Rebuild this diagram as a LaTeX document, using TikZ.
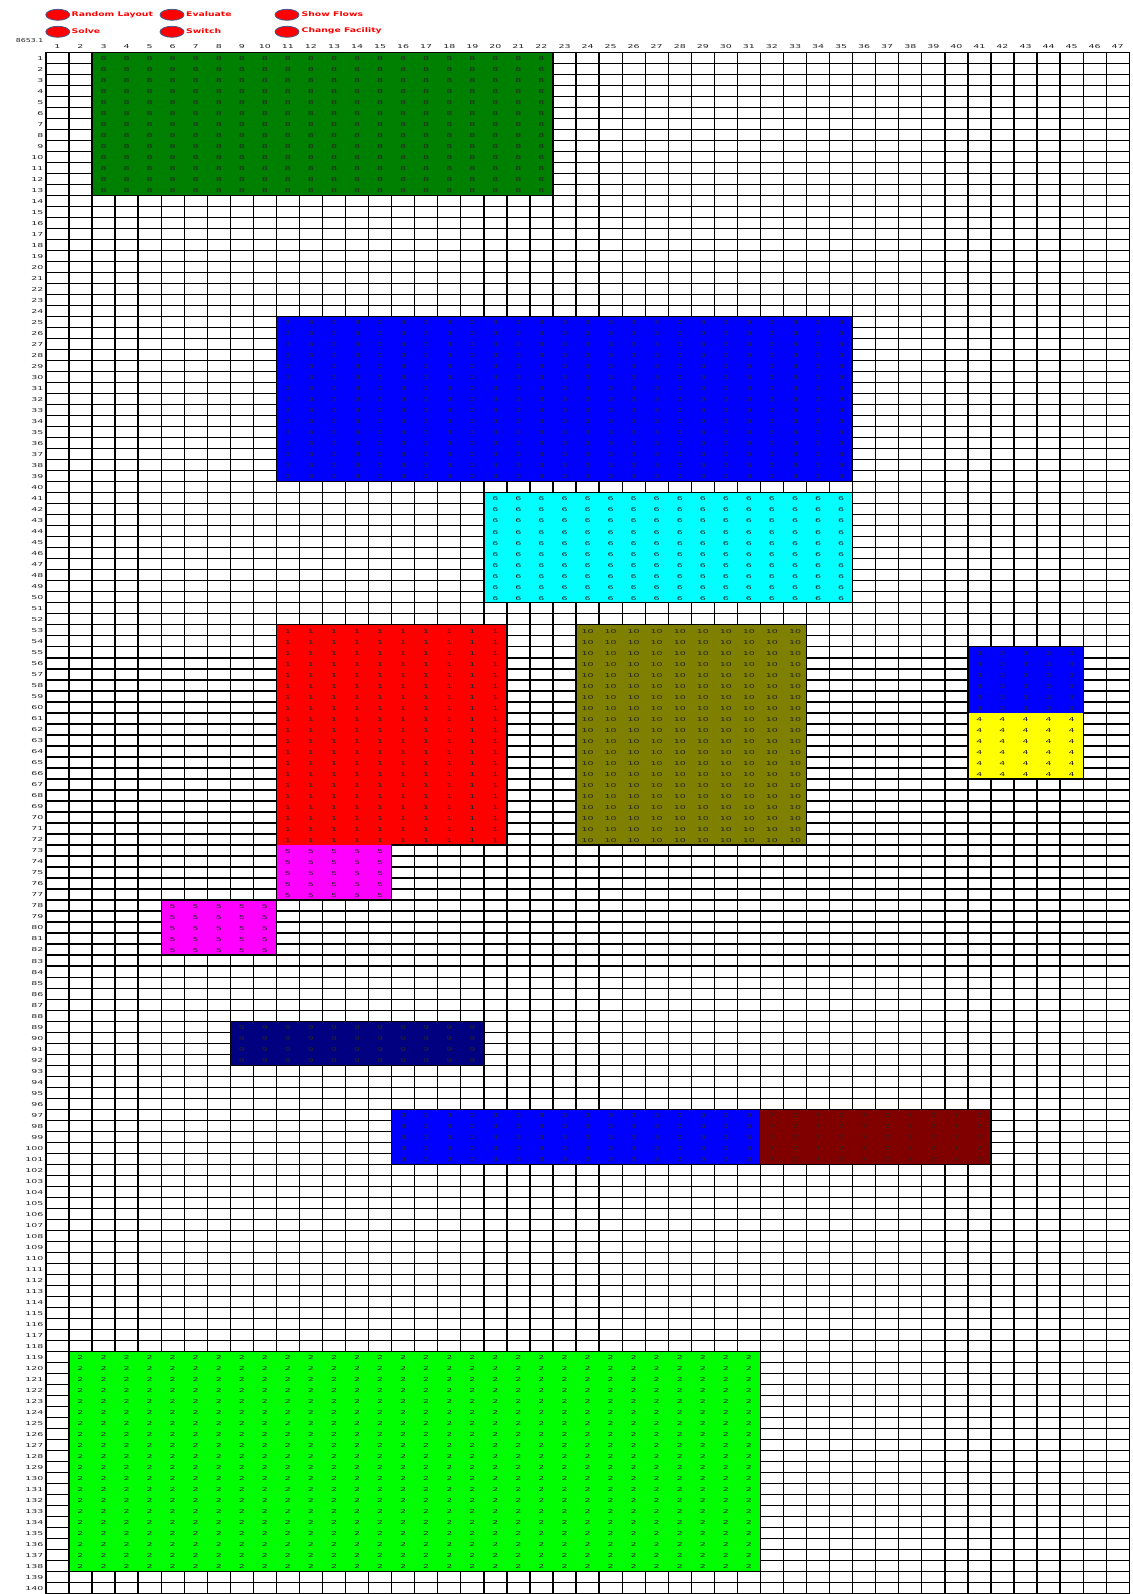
\documentclass[tikz,border=0pt]{standalone}
\usepackage{fontspec}
\usetikzlibrary{shapes.geometric}
\newfontfamily\numf{DejaVu Sans}[FakeStretch=1.75]
\newfontfamily\btnf{DejaVu Sans}[FakeStretch=1.45]
\newfontfamily\valf{DejaVu Sans}[FakeStretch=1.45]
\definecolor{dgreen}{RGB}{0,128,0}
\definecolor{pblue}{RGB}{0,0,255}
\definecolor{pcyan}{RGB}{0,255,255}
\definecolor{pred}{RGB}{255,0,0}
\definecolor{polive}{RGB}{128,128,0}
\definecolor{pyellow}{RGB}{255,255,0}
\definecolor{pmagenta}{RGB}{255,0,255}
\definecolor{pnavy}{RGB}{0,0,128}
\definecolor{pmaroon}{RGB}{128,0,0}
\definecolor{plime}{RGB}{0,255,0}
\definecolor{btnedge}{RGB}{70,90,140}
\newcommand\gx[1]{(45.9+(#1)*23.05)}
\newcommand\gy[1]{(52.3+(#1)*11.01)}
\tikzset{
  num/.style={font=\numf\fontsize{5.4}{6}\selectfont, inner sep=0pt, text=black!85},
  cell/.style={font=\numf\fontsize{5.4}{6}\selectfont, inner sep=0pt, text=black!85},
  gridblack/.style={draw=black, line width=1.3pt},
  outline/.style={draw=black, line width=1.3pt, line join=miter},
  btn/.style={shape=ellipse, fill=pred, draw=btnedge, line width=0.8pt, minimum width=24pt, minimum height=11pt, inner sep=0pt},
  btntext/.style={font=\btnf\bfseries\fontsize{6.4}{7}\selectfont, text=pred, inner sep=0pt, anchor=west},
}
\newcommand\blk[6]{%
  \fill[#5] ({\gx{#1-1}},{\gy{#3-1}}) rectangle ({\gx{#2}},{\gy{#4}});
  \foreach \cc in {#1,...,#2}{\foreach \rr in {#3,...,#4}{%
    \node[cell] (n-\rr-\cc) at ({\gx{\cc-0.5}},{\gy{\rr-0.5}+0.8}) {#6};}}%
}
\begin{document}
\begin{tikzpicture}[x=1pt,y=-1pt]
\useasboundingbox (0,0) rectangle (1132,1594);
\fill[white] (0,0) rectangle (1132,1594);
% grid
\foreach \i in {0,...,47}{\draw[gridblack] ({\gx{\i}},{\gy{0}}) -- ({\gx{\i}},1594);}
\foreach \j in {0,...,140}{\draw[gridblack] ({\gx{0}-0.65},{\gy{\j}}) -- ({\gx{47}+0.65},{\gy{\j}});}
% departments
\blk{3}{22}{1}{13}{dgreen}{8}
\blk{11}{35}{25}{39}{pblue}{3}
\blk{20}{35}{41}{50}{pcyan}{6}
\blk{11}{20}{53}{72}{pred}{1}
\blk{24}{33}{53}{72}{polive}{10}
\blk{41}{45}{55}{60}{pblue}{3}
\blk{41}{45}{61}{66}{pyellow}{4}
\blk{11}{15}{73}{77}{pmagenta}{5}
\blk{6}{10}{78}{82}{pmagenta}{5}
\blk{9}{19}{89}{92}{pnavy}{9}
\blk{16}{31}{97}{101}{pblue}{3}
\blk{32}{41}{97}{101}{pmaroon}{7}
\blk{2}{31}{119}{138}{plime}{2}
% outlines
\draw[outline] ({\gx{2}},{\gy{0}}) rectangle ({\gx{22}},{\gy{13}});
\draw[outline] ({\gx{10}},{\gy{24}}) rectangle ({\gx{35}},{\gy{39}});
\draw[outline] ({\gx{19}},{\gy{40}}) rectangle ({\gx{35}},{\gy{50}});
\draw[outline] ({\gx{10}},{\gy{52}}) -- ({\gx{20}},{\gy{52}}) -- ({\gx{20}},{\gy{72}}) -- ({\gx{15}},{\gy{72}}) -- ({\gx{15}},{\gy{77}}) -- ({\gx{10}},{\gy{77}}) -- cycle;
\draw[outline] ({\gx{5}},{\gy{77}}) rectangle ({\gx{10}},{\gy{82}});
\draw[outline] ({\gx{23}},{\gy{52}}) rectangle ({\gx{33}},{\gy{72}});
\draw[outline] ({\gx{40}},{\gy{54}}) rectangle ({\gx{45}},{\gy{66}});
\draw[outline] ({\gx{8}},{\gy{88}}) rectangle ({\gx{19}},{\gy{92}});
\draw[outline] ({\gx{15}},{\gy{96}}) rectangle ({\gx{41}},{\gy{101}});
\draw[outline] ({\gx{1}},{\gy{118}}) rectangle ({\gx{31}},{\gy{138}});
% headers
\foreach \c in {1,...,47}{\node[num] (col-\c) at ({\gx{\c-0.5}},47) {\c};}
\foreach \r in {1,...,140}{\node[num, anchor=east] (row-\r) at (43.5,{\gy{\r-0.5}+0.4}) {\r};}
\node[num, anchor=east, font=\valf\fontsize{5.4}{6}\selectfont] (val) at (43.5,40.3) {8653.1};
% buttons
\node[btn] (b1) at (57.8,14.8) {};
\node[btn] (b2) at (57.8,31.8) {};
\node[btn] (b3) at (172,14.8) {};
\node[btn] (b4) at (172,31.8) {};
\node[btn] (b5) at (287,14.8) {};
\node[btn] (b6) at (287,31.8) {};
\node[btntext] (t1) at (71.5,14.4) {Random Layout};
\node[btntext] (t2) at (71.5,31.2) {Solve};
\node[btntext] (t3) at (186,14.4) {Evaluate};
\node[btntext] (t4) at (186,31.2) {Switch};
\node[btntext] (t5) at (301.5,14.4) {Show Flows};
\node[btntext] (t6) at (301.5,31.2) {Change Facility};
\end{tikzpicture}
\end{document}
